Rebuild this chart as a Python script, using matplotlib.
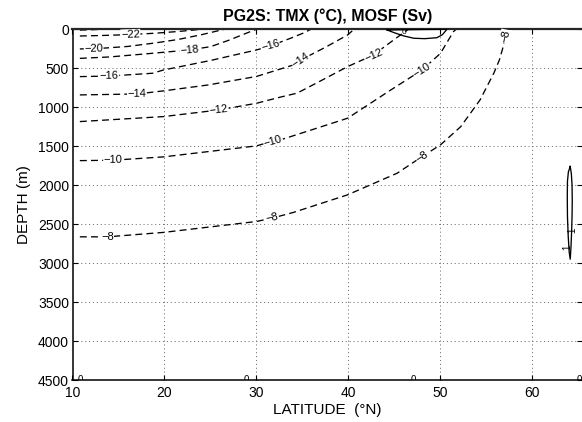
import numpy as np
import matplotlib
matplotlib.use("Agg")
import matplotlib.pyplot as plt

plt.rcParams['font.family'] = ['Liberation Sans', 'DejaVu Sans']
plt.rcParams['lines.scale_dashes'] = False

# ---------------- data (latitude in deg N, depth in m) ----------------
title = "PG2S: TMX (\u00b0C), MOSF (Sv)"
xlabel = "LATITUDE  (\u00b0N)"
ylabel = "DEPTH (m)"
xticks = [10, 20, 30, 40, 50, 60]
yticks = [0, 500, 1000, 1500, 2000, 2500, 3000, 3500, 4000, 4500]

# dashed (negative) contours of TMX
lev_m24 = -24
lat_m24 = [10.8, 12.0, 13.2]
dep_m24 = [10, 6, 0]

lev_m22 = -22
lat_m22 = [10.8, 13.0, 16.3, 19.0, 21.5, 24.0]
dep_m22 = [86, 80, 68, 50, 28, 0]
lab_m22 = [16.3]

lev_m20 = -20
lat_m20 = [10.8, 13.0, 16.0, 19.0, 21.5, 24.0, 26.5]
dep_m20 = [252, 245, 220, 175, 130, 70, 0]
lab_m20 = [12.3]

lev_m18 = -18
lat_m18 = [10.8, 14.0, 18.0, 22.7, 25.0, 27.0, 29.3, 30.0]
dep_m18 = [373, 355, 315, 265, 223, 140, 31, 0]
lab_m18 = [22.7]

lev_m16 = -16
lat_m16 = [10.8, 14.0, 18.7, 19.9, 25.0, 30.0, 31.5, 33.7, 35.1, 35.9]
dep_m16 = [607, 600, 564, 522, 400, 265, 214, 115, 48, 0]
lab_m16 = [14.0, 31.5]

lev_m14 = -14
lat_m14 = [10.8, 17.0, 19.9, 24.7, 30.0, 34.0, 34.8, 37.5, 39.9, 40.6]
dep_m14 = [842, 830, 790, 715, 605, 458, 394, 230, 73, 0]
lab_m14 = [17.0, 34.8]

lev_m12 = -12
lat_m12 = [10.8, 19.9, 25.9, 30.0, 32.6, 34.4, 37.0, 39.9, 42.7, 44.9, 46.5]
dep_m12 = [1184, 1120, 1035, 949, 870, 820, 660, 479, 330, 137, 0]
lab_m12 = [25.9, 42.7]

lev_m10 = -10
lat_m10 = [10.8, 14.4, 19.9, 30.0, 31.8, 32.6, 36.0, 39.9, 44.6, 48.0, 50.0, 51.4, 51.7]
dep_m10 = [1685, 1680, 1637, 1496, 1433, 1419, 1290, 1141, 778, 522, 308, 31, 0]
lab_m10 = [14.4, 31.8, 48.0]

lev_m8 = -8
lat_m8 = [10.8, 13.8, 19.9, 30.0, 31.7, 34.0, 39.9, 45.3, 48.0, 50.0, 52.2, 54.3, 55.8, 56.4, 56.75, 57.0, 57.2]
dep_m8 = [2663, 2663, 2606, 2466, 2423, 2350, 2124, 1846, 1633, 1483, 1249, 906, 562, 394, 250, 120, 0]
lab_m8 = [13.8, 31.7, 48.0, 57.05]

# solid (positive / zero) contours of MOSF
lens_lat = [44.2, 45.0, 46.0, 47.1, 48.3, 49.6, 50.2, 50.7, 48.0, 46.0, 44.2]
lens_dep = [9, 45, 85, 115, 120, 108, 70, 0, 3, 6, 9]
lens_lab = [(46.0, 45, "0")]

ell_lat = [64.10, 64.22, 64.30, 64.32, 64.30, 64.25, 64.18, 64.10, 63.98, 63.88, 63.80, 63.78, 63.80, 63.90, 64.10]
ell_dep = [1760, 1850, 2000, 2200, 2400, 2600, 2800, 2950, 2850, 2650, 2400, 2150, 1950, 1830, 1760]
ell_lab = [(64.30, 2573, "1"), (63.79, 2800, "1")]

zero_lat = [10.8, 28.9, 47.0, 65.1]
zero_dep = 4500

dashed = [
    (lev_m24, lat_m24, dep_m24, []),
    (lev_m22, lat_m22, dep_m22, lab_m22),
    (lev_m20, lat_m20, dep_m20, lab_m20),
    (lev_m18, lat_m18, dep_m18, lab_m18),
    (lev_m16, lat_m16, dep_m16, lab_m16),
    (lev_m14, lat_m14, dep_m14, lab_m14),
    (lev_m12, lat_m12, dep_m12, lab_m12),
    (lev_m10, lat_m10, dep_m10, lab_m10),
    (lev_m8, lat_m8, dep_m8, lab_m8),
]

# ---------------- figure ----------------
W, H = 582, 422
fig = plt.figure(figsize=(W / 100, H / 100), dpi=100)
left = 72.5 / W
bottom = 1 - 380 / H
top = 1 - 29.3 / H
ax = fig.add_axes([left, bottom, 1 - left, top - bottom])
ax.set_xlim(10, 10 + (W - 72.5) / 9.2)
ax.set_ylim(4500, 0)

ax.set_xticks(xticks)
ax.set_yticks(yticks)
ax.tick_params(direction='in', length=3.5, width=0.8, top=True, right=True,
               labelsize=10, colors='black')
ax.tick_params(axis='x', pad=4.0)
ax.tick_params(axis='y', pad=2.5)
ax.grid(True, color='0.45', linestyle=(0, (0.8, 2.0)), linewidth=0.7, zorder=0)
ax.set_axisbelow(True)
for s in ['left', 'bottom']:
    ax.spines[s].set_linewidth(1.1)
ax.spines['top'].set_linewidth(1.6)
ax.spines['top'].set_color('0.15')
ax.spines['right'].set_visible(False)

ax.set_title(title, fontsize=11.5, fontweight='bold', pad=6)
ax.set_xlabel(xlabel, fontsize=11, labelpad=2.5)
ax.set_ylabel(ylabel, fontsize=11, labelpad=5)


def seg_angle(lat, dep, x0, y0):
    pts = ax.transData.transform(np.column_stack([lat, dep]))
    p = ax.transData.transform((x0, y0))
    best, ang = 1e18, 0.0
    for i in range(len(pts) - 1):
        a, b = pts[i], pts[i + 1]
        d = b - a
        L = np.dot(d, d)
        t = 0 if L == 0 else np.clip(np.dot(p - a, d) / L, 0, 1)
        q = a + t * d
        dist = np.hypot(*(p - q))
        if dist < best:
            best = dist
            ang = np.degrees(np.arctan2(d[1], d[0]))
    if ang > 90:
        ang -= 180
    if ang < -90:
        ang += 180
    return ang


LABEL_FS = 8
for lev, la, de, labs in dashed:
    ax.plot(la, de, color='black', linewidth=0.95, linestyle=(0, (5.0, 3.0)), zorder=2)
    for xl in labs:
        yl = float(np.interp(xl, la, de))
        ang = seg_angle(la, de, xl, yl)
        ax.text(xl, yl, f"\u2212{abs(lev):d}", fontsize=LABEL_FS, ha='center', va='center',
                rotation=ang, rotation_mode='anchor', zorder=4,
                bbox=dict(facecolor='white', edgecolor='none', pad=0.3))

ax.plot(lens_lat, lens_dep, color='black', linewidth=0.95, zorder=3)
for xl, yl, t in lens_lab:
    ax.text(xl, yl, t, fontsize=LABEL_FS - 2, ha='center', va='center', zorder=4, clip_on=True)

ax.plot(ell_lat, ell_dep, color='black', linewidth=0.95, zorder=3)
for xl, yl, t in ell_lab:
    ax.text(xl, yl, t, fontsize=LABEL_FS - 1, ha='center', va='center', rotation=90,
            zorder=4, clip_on=True)

for xl in zero_lat:
    ax.text(xl, zero_dep, "0", fontsize=LABEL_FS - 1, ha='center', va='center', zorder=4,
            clip_on=True)

fig.savefig("out.png", dpi=100)
